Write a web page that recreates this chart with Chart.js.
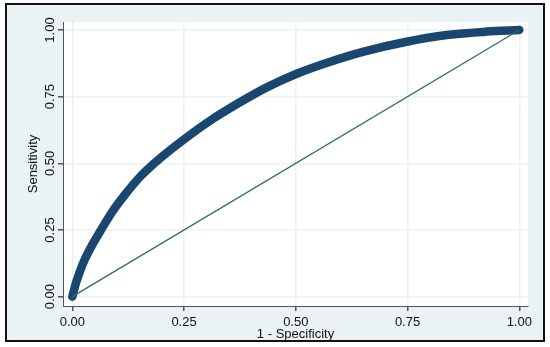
<!DOCTYPE html>
<html>
<head>
<meta charset="utf-8">
<script src="https://cdn.jsdelivr.net/npm/chart.js@4"></script>
<style>
  html, body { margin: 0; padding: 0; background: #fff; }
  #frame {
    position: absolute; left: 5px; top: 3px;
    width: 536px; height: 335px;
    border: 2px solid #111;
    background: #eaf2f3;
  }
  #rocChart { display: block; }
</style>
</head>
<body>
<div id="frame"><canvas id="rocChart" width="536" height="335"></canvas></div>
<script>
// --- data ---
const specComplement = [0, 0.008, 0.016, 0.028, 0.045, 0.066, 0.09, 0.119, 0.153, 0.19, 0.25, 0.308, 0.375, 0.435, 0.502, 0.577, 0.652, 0.748, 0.838, 0.927, 1.0];
const sensitivity    = [0, 0.05, 0.09, 0.14, 0.195, 0.255, 0.32, 0.385, 0.452, 0.51, 0.59, 0.66, 0.729, 0.785, 0.836, 0.881, 0.919, 0.956, 0.981, 0.994, 1.0];
const refLineX = [0, 1];
const refLineY = [0, 1];
const tickValues = [0, 0.25, 0.5, 0.75, 1];

const FONT = "'Liberation Sans', Arial, Helvetica, sans-serif";

const rocPoints = specComplement.map((x, i) => ({ x: x, y: sensitivity[i] }));
const refPoints = refLineX.map((x, i) => ({ x: x, y: refLineY[i] }));

// white plot region on top of the light frame
const plotBg = {
    id: 'plotBg',
    beforeDraw(chart) {
        const a = chart.chartArea;
        chart.ctx.save();
        chart.ctx.fillStyle = '#ffffff';
        chart.ctx.fillRect(a.left, a.top, a.right - a.left, a.bottom - a.top);
        chart.ctx.restore();
    }
};

const setTicks = scale => { scale.ticks = tickValues.map(v => ({ value: v })); };

const ctx = document.getElementById('rocChart').getContext('2d');
new Chart(ctx, {
    type: 'scatter',
    data: {
        datasets: [
            {
                label: 'Reference',
                data: refPoints,
                showLine: true,
                borderColor: '#2b6f5f',
                borderWidth: 1.3,
                pointRadius: 0
            },
            {
                label: 'ROC',
                data: rocPoints,
                showLine: true,
                borderColor: '#1a476f',
                borderWidth: 8.5,
                borderCapStyle: 'round',
                borderJoinStyle: 'round',
                cubicInterpolationMode: 'monotone',
                pointRadius: 0
            }
        ]
    },
    options: {
        responsive: false,
        animation: false,
        layout: { padding: { left: 0, top: 17, right: 15, bottom: 0 } },
        plugins: { legend: { display: false }, tooltip: { enabled: false } },
        scales: {
            x: {
                type: 'linear',
                min: -0.0208,
                max: 1.0195,
                afterBuildTicks: setTicks,
                afterFit: scale => { scale.height = 34; },
                grid: { color: '#eaf2f3', lineWidth: 1.5, tickColor: '#555', tickLength: 5 },
                border: { display: true, color: '#555', width: 1 },
                ticks: {
                    padding: 4,
                    color: '#111',
                    font: { family: FONT, size: 13 },
                    maxRotation: 0,
                    callback: v => v.toFixed(2)
                },
                title: {
                    display: true,
                    text: '1 - Specificity',
                    color: '#111',
                    font: { family: FONT, size: 13 },
                    padding: { top: 0, bottom: -2 }
                }
            },
            y: {
                type: 'linear',
                min: -0.035,
                max: 1.030,
                afterBuildTicks: setTicks,
                afterFit: scale => { scale.width = 56; },
                grid: { color: '#eaf2f3', lineWidth: 1.5, tickColor: '#555', tickLength: 5 },
                border: { display: true, color: '#555', width: 1 },
                ticks: {
                    padding: -5,
                    minRotation: 90,
                    maxRotation: 90,
                    crossAlign: 'center',
                    color: '#111',
                    font: { family: FONT, size: 13 },
                    callback: v => v.toFixed(2)
                },
                title: {
                    display: true,
                    text: 'Sensitivity',
                    color: '#111',
                    font: { family: FONT, size: 13 },
                    padding: { top: 19, bottom: 0 }
                }
            }
        }
    },
    plugins: [plotBg]
});
</script>
</body>
</html>
